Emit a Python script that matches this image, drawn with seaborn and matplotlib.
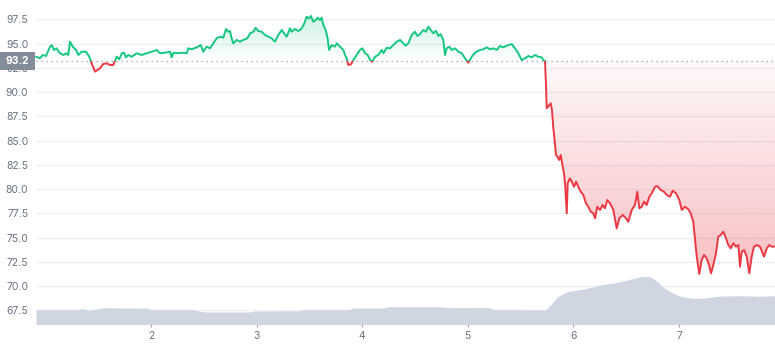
import numpy as np
import pandas as pd
import matplotlib
matplotlib.use("Agg")
import matplotlib.pyplot as plt
import seaborn as sns
from matplotlib.patches import Rectangle
from matplotlib.path import Path
from matplotlib.colors import to_rgb
import matplotlib.transforms as mtrans

# ---- data ----
days = [0.911, 0.949, 0.974, 1.006, 1.044, 1.060, 1.081, 1.107, 1.132, 1.170,
        1.202, 1.217, 1.233, 1.259, 1.290, 1.312, 1.344, 1.384, 1.416, 1.438,
        1.470, 1.491, 1.517, 1.548, 1.580, 1.612, 1.643, 1.659, 1.675, 1.700,
        1.723, 1.744, 1.763, 1.785, 1.817, 1.865, 1.912, 1.959, 2.007, 2.054,
        2.085, 2.133, 2.180, 2.196, 2.211, 2.259, 2.306, 2.338, 2.353, 2.385,
        2.433, 2.471, 2.495, 2.527, 2.559, 2.590, 2.622, 2.653, 2.685, 2.710,
        2.732, 2.748, 2.764, 2.779, 2.812, 2.843, 2.874, 2.912, 2.938, 2.969,
        2.991, 3.016, 3.048, 3.080, 3.111, 3.143, 3.174, 3.205, 3.238, 3.259,
        3.285, 3.316, 3.332, 3.364, 3.395, 3.427, 3.452, 3.474, 3.496, 3.515,
        3.537, 3.560, 3.579, 3.600, 3.616, 3.632, 3.654, 3.673, 3.686, 3.711,
        3.742, 3.759, 3.790, 3.821, 3.837, 3.853, 3.868, 3.894, 3.916, 3.948,
        3.979, 4.001, 4.027, 4.052, 4.074, 4.096, 4.121, 4.152, 4.185, 4.200,
        4.232, 4.263, 4.295, 4.327, 4.358, 4.389, 4.412, 4.437, 4.469, 4.500,
        4.522, 4.547, 4.579, 4.604, 4.626, 4.649, 4.673, 4.699, 4.721, 4.743,
        4.768, 4.784, 4.800, 4.825, 4.848, 4.879, 4.910, 4.942, 4.973, 5.005,
        5.037, 5.068, 5.116, 5.147, 5.179, 5.210, 5.241, 5.274, 5.305, 5.336,
        5.384, 5.416, 5.447, 5.478, 5.510, 5.542, 5.573, 5.605, 5.636, 5.668,
        5.700, 5.715, 5.731, 5.741, 5.747, 5.772, 5.785, 5.797, 5.810, 5.819,
        5.835, 5.848, 5.866, 5.880, 5.899, 5.911, 5.923, 5.937, 5.946, 5.968,
        5.984, 6.006, 6.025, 6.046, 6.069, 6.094, 6.119, 6.141, 6.164, 6.188,
        6.205, 6.226, 6.252, 6.277, 6.299, 6.321, 6.347, 6.378, 6.410, 6.435,
        6.467, 6.498, 6.520, 6.552, 6.583, 6.605, 6.624, 6.647, 6.669, 6.694,
        6.719, 6.742, 6.773, 6.795, 6.827, 6.858, 6.884, 6.915, 6.940, 6.972,
        7.003, 7.026, 7.057, 7.088, 7.111, 7.135, 7.152, 7.168, 7.192, 7.215,
        7.237, 7.262, 7.284, 7.303, 7.325, 7.350, 7.372, 7.395, 7.420, 7.445,
        7.467, 7.490, 7.514, 7.540, 7.562, 7.578, 7.594, 7.616, 7.641, 7.666,
        7.688, 7.710, 7.736, 7.767, 7.805, 7.831, 7.855, 7.878, 7.909]

price = [93.64, 93.48, 93.82, 93.72, 94.68, 94.85, 94.34, 94.51, 94.06, 93.82,
         94.00, 93.82, 95.19, 94.68, 94.34, 93.82, 94.16, 94.16, 93.64, 92.96,
         92.10, 92.27, 92.45, 92.89, 92.96, 92.79, 92.79, 93.23, 93.64, 93.38,
         94.00, 94.06, 93.58, 93.82, 93.64, 94.00, 93.82, 94.00, 94.16, 94.34,
         94.00, 94.06, 94.16, 93.58, 94.06, 94.00, 94.06, 94.00, 94.51, 94.41,
         94.61, 94.85, 94.16, 94.68, 94.51, 95.03, 95.54, 95.71, 95.60, 96.50,
         96.22, 96.29, 95.54, 95.03, 95.37, 95.19, 95.37, 95.54, 96.06, 96.22,
         96.63, 96.29, 96.22, 95.88, 95.71, 95.54, 95.19, 95.88, 96.40, 96.06,
         95.71, 96.57, 96.22, 96.50, 96.29, 96.57, 97.09, 97.77, 97.60, 97.84,
         97.25, 97.43, 97.67, 97.43, 97.67, 96.91, 96.40, 95.54, 94.34, 94.85,
         94.68, 95.03, 94.68, 94.34, 93.82, 93.48, 92.79, 92.86, 93.30, 93.82,
         94.34, 94.51, 94.00, 93.82, 93.30, 93.13, 93.64, 93.82, 94.34, 94.00,
         94.57, 94.51, 94.85, 95.19, 95.37, 95.03, 94.78, 95.03, 95.88, 96.22,
         95.78, 95.98, 96.40, 96.22, 96.74, 96.40, 96.06, 96.32, 95.78, 95.98,
         95.37, 93.82, 94.51, 94.68, 94.34, 94.51, 94.16, 94.00, 93.48, 93.03,
         93.64, 94.06, 94.34, 94.41, 94.61, 94.41, 94.51, 94.34, 94.75, 94.61,
         94.85, 94.95, 94.51, 94.00, 93.30, 93.48, 93.72, 93.58, 93.82, 93.64,
         93.58, 93.30, 93.20, 90.55, 88.32, 88.67, 88.84, 88.15, 86.26, 85.40,
         83.51, 83.34, 83.00, 83.51, 82.30, 81.62, 80.24, 77.50, 80.59, 81.11,
         80.76, 80.24, 80.76, 80.24, 79.73, 79.39, 78.53, 78.18, 77.67, 77.50,
         76.98, 78.18, 77.84, 78.36, 78.02, 78.87, 78.53, 77.84, 75.95, 76.98,
         77.33, 76.98, 76.63, 77.84, 78.36, 79.73, 78.02, 78.18, 78.70, 78.36,
         79.21, 79.56, 80.24, 80.31, 79.90, 79.73, 79.39, 79.21, 79.83, 79.56,
         78.87, 77.84, 78.18, 77.91, 77.50, 76.63, 74.75, 73.03, 71.24, 72.69,
         73.20, 72.86, 72.17, 71.31, 72.17, 73.38, 75.09, 75.26, 75.60, 74.92,
         74.23, 73.89, 74.41, 74.06, 74.23, 71.99, 73.54, 73.72, 73.03, 71.31,
         73.03, 74.06, 74.23, 74.06, 73.03, 73.89, 74.23, 74.06, 74.06]

vol_days = [0.911, 1.30, 1.35, 1.40, 1.44, 1.55, 1.97, 2.00, 2.40, 2.45, 2.50,
            2.93, 2.98, 3.40, 3.45, 3.87, 3.92, 4.20, 4.25, 4.73, 4.80, 5.20,
            5.25, 5.70, 5.73, 5.78, 5.85, 5.94, 6.10, 6.25, 6.40, 6.50, 6.63,
            6.70, 6.74, 6.80, 6.85, 6.92, 6.98, 7.05, 7.13, 7.25, 7.39, 7.60,
            7.75, 7.909]
vol_level = [67.57, 67.57, 67.70, 67.52, 67.55, 67.77, 67.72, 67.57, 67.57, 67.45, 67.33,
             67.33, 67.43, 67.45, 67.57, 67.57, 67.74, 67.74, 67.87, 67.87, 67.80, 67.77,
             67.57, 67.55, 67.50, 68.00, 68.90, 69.42, 69.70, 70.10, 70.35, 70.60, 70.96,
             71.00, 70.90, 70.40, 69.87, 69.40, 69.08, 68.85, 68.74, 68.76, 68.97, 69.00,
             68.95, 69.00]

baseline = 93.2
yticks = [67.5, 70.0, 72.5, 75.0, 77.5, 80.0, 82.5, 85.0, 87.5, 90.0, 92.5, 95.0, 97.5]
xticks = [2, 3, 4, 5, 6, 7]

GREEN = "#16c784"
RED = "#ea3943"
VOL = "#cfd6e2"
TICK_COL = "#6b7280"

sns.set_theme(style="white")
plt.rcParams["font.family"] = ["Inter", "DejaVu Sans"]

W, H = 775, 347
fig = plt.figure(figsize=(W / 100, H / 100), dpi=100)
ax = fig.add_axes([36 / W, 1 - 323.5 / H, 1 - 36 / W, 323.5 / H])

df = pd.DataFrame({"day": days, "price": price})
x = np.array(days)
y = np.array(price)
xmin, xmax = 0.911, 7.909
ymin, ymax = 66.14, 99.49

# gradient fills
def gradient_fill(where, color, a_bottom, a_top, y0, y1):
    coll = ax.fill_between(x, y, baseline, where=where, interpolate=True,
                           facecolor="none", edgecolor="none")
    paths = [p for p in coll.get_paths() if len(p.vertices) > 0]
    comp = Path.make_compound_path(*paths)
    grad = np.zeros((256, 1, 4))
    grad[..., :3] = to_rgb(color)
    grad[:, 0, 3] = np.linspace(a_bottom, a_top, 256)
    im = ax.imshow(grad, extent=[xmin, xmax, y0, y1], origin="lower",
                   aspect="auto", zorder=1, interpolation="bilinear")
    im.set_clip_path(comp, ax.transData)

gradient_fill(y >= baseline, GREEN, 0.0, 0.22, baseline, y.max())
gradient_fill(y <= baseline, RED, 0.32, 0.03, y.min(), baseline)

# volume band
ax.fill_between(vol_days, ymin - 1, vol_level, color=VOL, lw=0, zorder=3)

# baseline dotted
ax.axhline(baseline, color="#a3a9b3", lw=1.0, ls=(0, (1, 2.6)), zorder=2)

# price line split by baseline via clipping
sns.lineplot(data=df, x="day", y="price", color=GREEN, lw=1.4, ax=ax,
             sort=False, estimator=None, zorder=4)
sns.lineplot(data=df, x="day", y="price", color=RED, lw=1.4, ax=ax,
             sort=False, estimator=None, zorder=4)
lg, lr = ax.lines[-2], ax.lines[-1]
lg.set_clip_path(Rectangle((xmin - 1, baseline), 20, 50, transform=ax.transData))
lr.set_clip_path(Rectangle((xmin - 1, baseline - 50), 20, 50, transform=ax.transData))

ax.set_xlim(xmin, xmax)
ax.set_ylim(ymin, ymax)
ax.set_yticks(yticks)
ax.set_yticklabels([f"{v:.1f}" for v in yticks])
ax.set_xticks(xticks)
ax.set_xticklabels([str(v) for v in xticks])
ax.set_xlabel("")
ax.set_ylabel("")
ax.yaxis.grid(True, color="#eef0f3", lw=1)
ax.xaxis.grid(False)
ax.set_axisbelow(True)
for s in ax.spines.values():
    s.set_visible(False)
ax.tick_params(axis="y", length=0, pad=5.5, labelsize=7.5, labelcolor=TICK_COL)
ax.tick_params(axis="x", length=2.2, width=0.8, color="#9ca3af", pad=3,
               labelsize=7.5, labelcolor=TICK_COL, bottom=True)

# baseline value tag
blend = mtrans.blended_transform_factory(fig.transFigure, ax.transData)
fig.add_artist(Rectangle((0, baseline - 0.88), 35 / W, 1.76, transform=blend,
                         facecolor="#858c99", edgecolor="none", zorder=5))
fig.text(17.5 / W, baseline, f"{baseline:.1f}", transform=blend, ha="center",
         va="center", color="white", fontsize=7.5, fontweight="bold", zorder=6)

fig.savefig("out.png", dpi=100)
